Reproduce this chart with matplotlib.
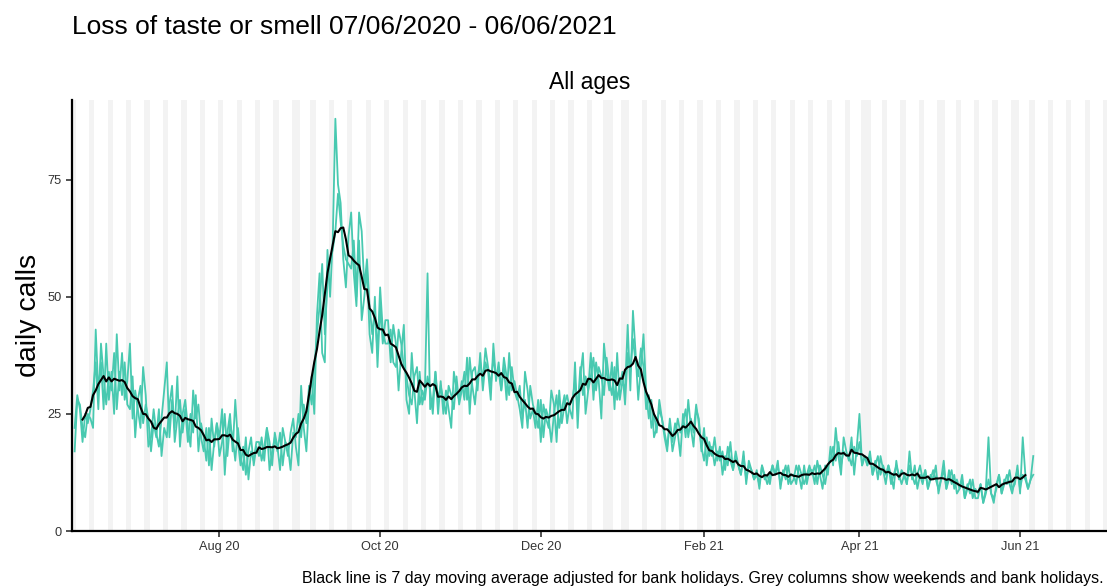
import numpy as np
import pandas as pd
import matplotlib
matplotlib.use("Agg")
import matplotlib.pyplot as plt
import matplotlib.dates as mdates

plt.rcParams["font.family"] = ["Liberation Sans", "DejaVu Sans"]

start_date = "2020-06-07"
end_date = "2021-06-06"

# daily calls, source A (one row per week, Sun..Sat)
calls_a = [
    17, 28, 27, 22, 20, 25, 24,
    22, 43, 30, 36, 26, 40, 28,
    34, 25, 42, 30, 38, 28, 32,
    40, 24, 30, 26, 22, 35, 29,
    18, 20, 26, 21, 18, 24, 30,
    36, 20, 28, 22, 33, 18, 25,
    28, 22, 18, 30, 24, 27, 20,
    17, 22, 14, 24, 18, 23, 20,
    26, 12, 21, 25, 17, 28, 19,
    14, 18, 12, 17, 20, 14, 18,
    16, 20, 15, 22, 19, 14, 21,
    18, 13, 22, 19, 16, 21, 24,
    18, 14, 31, 22, 17, 28, 33,
    25, 46, 55, 38, 36, 60, 50,
    62, 88, 74, 70, 58, 52, 63,
    68, 55, 48, 62, 45, 50, 56,
    42, 38, 50, 35, 48, 40, 45,
    45, 36, 44, 40, 30, 38, 44,
    28, 25, 38, 30, 23, 34, 27,
    30, 55, 26, 28, 34, 25, 32,
    25, 30, 26, 22, 34, 30, 28,
    32, 28, 37, 25, 34, 35, 30,
    38, 30, 36, 34, 28, 40, 32,
    36, 30, 35, 28, 38, 30, 32,
    29, 26, 22, 34, 30, 24, 26,
    22, 28, 19, 27, 24, 22, 30,
    27, 19, 30, 23, 27, 29, 26,
    24, 36, 22, 33, 38, 25, 30,
    38, 28, 36, 32, 24, 40, 34,
    30, 36, 26, 38, 28, 32, 30,
    44, 30, 47, 38, 28, 35, 42,
    30, 24, 28, 20, 22, 26, 24,
    20, 17, 24, 19, 23, 21, 16,
    25, 20, 28, 22, 18, 26, 24,
    17, 22, 14, 19, 16, 20, 15,
    18, 12, 16, 14, 19, 13, 17,
    14, 12, 17, 10, 15, 13, 11,
    13, 9, 14, 11, 12, 10, 14,
    12, 15, 9, 13, 11, 14, 10,
    11, 14, 12, 9, 14, 10, 13,
    13, 10, 15, 12, 9, 14, 12,
    18, 14, 22, 16, 12, 20, 17,
    15, 20, 12, 18, 25, 14, 16,
    14, 17, 12, 15, 11, 16, 13,
    10, 14, 12, 9, 15, 11, 13,
    12, 10, 17, 11, 14, 9, 12,
    10, 13, 9, 12, 11, 14, 8,
    11, 15, 9, 13, 10, 12, 8,
    9, 12, 7, 10, 8, 11, 7,
    7, 10, 6, 9, 20, 8, 7,
    9, 12, 8, 11, 10, 13, 9,
    10, 14, 8, 20, 12, 9, 11,
    16,
]

# daily calls, source B
calls_b = [
    22, 29, 26, 19, 25, 23, 26,
    30, 36, 26, 40, 33, 27, 34,
    30, 38, 26, 34, 29, 36, 27,
    26, 33, 20, 28, 31, 23, 27,
    24, 17, 23, 20, 26, 16, 22,
    20, 27, 31, 19, 24, 28, 21,
    26, 19, 25, 21, 29, 17, 23,
    20, 15, 22, 13, 19, 23, 16,
    19, 25, 16, 23, 20, 15, 22,
    16, 13, 20, 11, 17, 15, 19,
    19, 15, 18, 22, 13, 17, 20,
    17, 21, 14, 19, 18, 13, 21,
    20, 25, 20, 27, 23, 31, 27,
    35, 42, 48, 57, 42, 53, 58,
    60, 64, 72, 66, 61, 58, 57,
    56, 62, 50, 68, 64, 52, 58,
    48, 42, 47, 38, 52, 43, 40,
    40, 43, 36, 35, 43, 40, 35,
    33, 29, 27, 33, 35, 27, 30,
    28, 33, 30, 25, 34, 28, 31,
    28, 25, 31, 29, 26, 33, 27,
    30, 34, 28, 37, 31, 27, 33,
    36, 32, 39, 35, 31, 37, 33,
    34, 30, 37, 33, 29, 35, 30,
    28, 31, 24, 28, 22, 31, 27,
    25, 22, 28, 20, 26, 24, 19,
    25, 29, 22, 26, 29, 23, 27,
    28, 32, 26, 35, 29, 33, 30,
    33, 37, 30, 35, 33, 29, 37,
    32, 29, 35, 28, 31, 34, 27,
    38, 34, 41, 36, 33, 39, 35,
    26, 29, 22, 25, 21, 28, 24,
    21, 18, 23, 17, 20, 24, 21,
    23, 26, 20, 24, 21, 27, 23,
    18, 15, 20, 16, 18, 14, 17,
    15, 17, 13, 18, 15, 13, 16,
    14, 12, 16, 11, 14, 13, 11,
    12, 10, 14, 12, 10, 12, 14,
    12, 14, 10, 12, 14, 10, 12,
    12, 10, 14, 12, 10, 12, 14,
    12, 14, 10, 14, 12, 10, 14,
    15, 18, 15, 19, 14, 17, 16,
    16, 14, 18, 16, 19, 14, 16,
    14, 16, 12, 14, 16, 12, 14,
    12, 14, 10, 12, 14, 12, 10,
    12, 10, 14, 12, 10, 12, 14,
    11, 13, 9, 11, 13, 11, 9,
    11, 13, 9, 11, 13, 9, 11,
    9, 11, 7, 9, 11, 7, 9,
    8, 10, 6, 8, 11, 8, 6,
    10, 12, 8, 10, 12, 10, 8,
    11, 13, 9, 12, 11, 9, 11,
    12,
]

bank_holidays = ["2020-08-31", "2020-12-25", "2020-12-28", "2021-01-01",
                 "2021-04-02", "2021-04-05", "2021-05-03", "2021-05-31"]

dates = pd.date_range(start_date, end_date, freq="D")
df = pd.DataFrame({"a": calls_a, "b": calls_b}, index=dates)
avg7 = ((df["a"] + df["b"]) / 2).rolling(7, center=True).mean()

teal = "#48C9B0"
fig = plt.figure(figsize=(11.07, 5.87), dpi=100)
ax = fig.add_axes([72 / 1107, 1 - 531 / 587, 1 - 72 / 1107, (531 - 100) / 587])

x0 = pd.Timestamp("2020-06-06")
x1 = pd.Timestamp("2021-07-04")
grey_days = [d for d in pd.date_range(x0, x1) if d.weekday() >= 5]
grey_days += [pd.Timestamp(d) for d in bank_holidays]
for d in grey_days:
    ax.axvspan(d - pd.Timedelta(hours=12), d + pd.Timedelta(hours=12),
               color="#EBEBEB", alpha=0.6, lw=0, zorder=0)

ax.plot(df.index, df["b"], color=teal, lw=1.3, zorder=2)
ax.plot(df.index, df["a"], color=teal, lw=1.3, zorder=2)
ax.plot(avg7.index, avg7, color="black", lw=1.5, zorder=3)

ax.set_xlim(x0, x1)
ax.set_ylim(0, 92)
ax.set_yticks([0, 25, 50, 75])
ax.xaxis.set_major_locator(mdates.MonthLocator(bymonth=[2, 4, 6, 8, 10, 12]))
ax.xaxis.set_major_formatter(mdates.DateFormatter("%b %y"))
ax.tick_params(labelsize=9.2, length=4, width=1.2, color="#333333", labelcolor="#333333")
for s in ["top", "right"]:
    ax.spines[s].set_visible(False)
for s in ["left", "bottom"]:
    ax.spines[s].set_linewidth(1.6)
ax.set_ylabel("daily calls", fontsize=20.5)

fig.text(72 / 1107, 1 - 27 / 587, "Loss of taste or smell 07/06/2020 - 06/06/2021",
         fontsize=19, va="center", ha="left")
ax.set_title("All ages", fontsize=16.5, pad=8)
fig.text(0.997, 1 - 578 / 587,
         "Black line is 7 day moving average adjusted for bank holidays. Grey columns show weekends and bank holidays.",
         fontsize=11.5, ha="right", va="center")

fig.savefig("out.png", dpi=100)
